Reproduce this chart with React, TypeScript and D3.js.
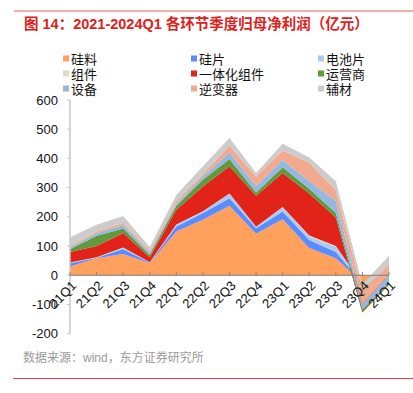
import * as d3 from 'd3';

const quarters = ['21Q1', '21Q2', '21Q3', '21Q4', '22Q1', '22Q2', '22Q3', '22Q4', '23Q1', '23Q2', '23Q3', '23Q4', '24Q1'];
const seriesNames = ['硅料', '硅片', '电池片', '组件', '一体化组件', '运营商', '设备', '逆变器', '辅材'];
const seriesColors = ['#FFA05C', '#5A8CFF', '#A9CBF6', '#E3D9C4', '#E2231A', '#5F9A3C', '#94B8E2', '#F2AA8E', '#CCCCCC'];

const polysilicon = [30, 58, 73, 41, 150, 190, 238, 142, 192, 93, 58, -25, -3];
const wafer = [11, 2, 17, 2, 17, 23, 26, 19, 26, 28, 22, -3, -2];
const cell = [2, 1, 4, 1, 6, 5, 15, 4, 15, 12, 18, -2, -2];
const modules = [1, 1, 1, 1, 1, 1, 1, 1, 1, 3, 2, 0, 0];
const integrated = [36, 38, 50, 17, 50, 85, 93, 106, 116, 144, 98, -97, -25];
const operator = [9, 35, 15, 8, 14, 23, 25, 11, 20, 16, 15, 8, 4];
const equipment = [6, 9, 12, 8, 7, 11, 22, 23, 25, 26, 42, 20, 30];
const inverter = [5, 6, 8, 7, 8, 9, 23, 32, 32, 63, 37, 45, 35];
const auxiliary = [30, 23, 23, 12, 22, 26, 27, 12, 23, 18, 30, 22, 30];

const yTicks = [600, 500, 400, 300, 200, 100, 0, -100, -200];

const W = 413;
const H = 393;
const latin = '"Liberation Sans", Arial, sans-serif';
const cjk = '"Liberation Sans", "Noto Sans CJK SC", sans-serif';

export default function App() {
  const allSeries = [polysilicon, wafer, cell, modules, integrated, operator, equipment, inverter, auxiliary];
  const rows = quarters.map((q, i) => {
    const r: Record<string, any> = { q };
    seriesNames.forEach((n, k) => (r[n] = allSeries[k][i]));
    return r;
  });

  // excel-like stacking: cumulative sums, signs mixed
  const stacked = d3.stack<any>().keys(seriesNames).offset(d3.stackOffsetNone)(rows);

  const x = d3.scalePoint<string>().domain(quarters).range([70, 389]);
  const y = d3.scaleLinear().domain([-200, 600]).range([333.7, 100]);

  const area = d3
    .area<any>()
    .x((d) => x(d.data.q) as number)
    .y0((d) => y(d[0]))
    .y1((d) => y(d[1]));

  return (
    <svg width={W} height={H} style={{ position: 'absolute', left: 0, top: 0, background: '#fff' }}>
      {/* header rule and title */}
      <line x1={14} x2={413} y1={11} y2={11} stroke="#EC5A5A" strokeWidth={1} />
      <text x={24} y={29} fill="#E2201A" fontSize={14.5} fontFamily={cjk} fontWeight={600}>
        图 14：2021-2024Q1 各环节季度归母净利润（亿元）
      </text>

      {/* legend */}
      {seriesNames.map((n, k) => {
        const col = k % 3;
        const row = Math.floor(k / 3);
        const lx = [63, 191, 318][col];
        const ly = 59 + row * 15;
        return (
          <g key={n}>
            <rect x={lx} y={ly - 3.5} width={6} height={6} fill={seriesColors[k]} />
            <text x={lx + 8} y={ly + 4.5} fontSize={13} fontFamily={cjk} fill="#111">
              {n}
            </text>
          </g>
        );
      })}

      {/* areas */}
      {stacked.map((s, k) => (
        <path key={s.key} d={area(s) as string} fill={seriesColors[k]} />
      ))}

      {/* y axis */}
      <line x1={70} x2={70} y1={y(600)} y2={y(-200)} stroke="#C8C8C8" strokeWidth={1.5} />
      {yTicks.map((t) => (
        <g key={t}>
          <line x1={67} x2={70} y1={y(t)} y2={y(t)} stroke="#C8C8C8" />
          <text x={58} y={y(t)} dy="0.35em" textAnchor="end" fontSize={13} fontFamily={latin} fill="#111">
            {t}
          </text>
        </g>
      ))}

      {/* x axis */}
      <line x1={70} x2={389} y1={y(0)} y2={y(0)} stroke="#7F7F7F" strokeWidth={1} />
      {quarters.map((q) => (
        <g key={q}>
          <line x1={x(q)} x2={x(q)} y1={y(0)} y2={y(0) - 3} stroke="#7F7F7F" />
          <text
            transform={`translate(${(x(q) as number) + 4},${y(0) + 8}) rotate(-45)`}
            textAnchor="end"
            dy="0.35em"
            fontSize={13}
            fontFamily={latin}
            fill="#111"
          >
            {q}
          </text>
        </g>
      ))}

      {/* source and footer rule */}
      <text x={23} y={362} fontSize={12} fontFamily={cjk} fill="#9A9A9A">
        数据来源：wind，东方证券研究所
      </text>
      <line x1={13} x2={413} y1={378.5} y2={378.5} stroke="#EC4040" strokeWidth={1} />
    </svg>
  );
}
